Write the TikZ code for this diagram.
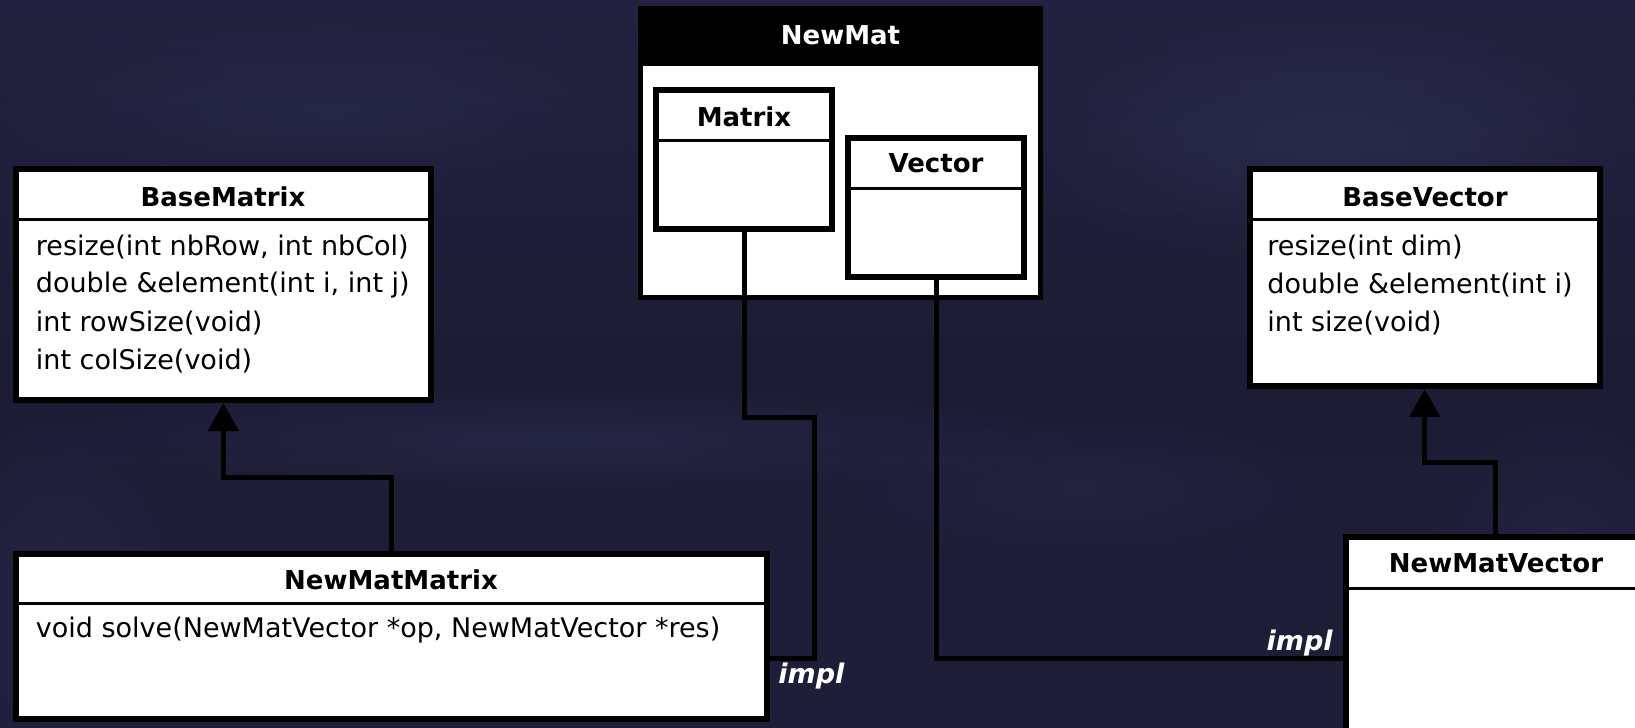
\documentclass[tikz,border=0pt]{standalone}
\usepackage{fontspec}
\setmainfont{DejaVu Sans}
\usetikzlibrary{arrows.meta,fit,fadings}

\definecolor{bgtop}{RGB}{34,34,64}
\definecolor{bgmid}{RGB}{28,28,52}
\definecolor{bgbottom}{RGB}{30,30,57}
\definecolor{bghaze}{RGB}{50,50,90}
\tikzfading[name=softspot, inner color=transparent!0, outer color=transparent!100]

\tikzset{
  classbox/.style={draw=black, line width=3pt, fill=white, inner sep=0pt},
  packagebox/.style={draw=black, line width=2.5pt, fill=white, inner sep=0pt},
  divider/.style={draw=black, line width=1.5pt},
  classname/.style={font=\bfseries\fontsize{13}{15}\selectfont, inner sep=0pt},
  member/.style={font=\fontsize{13.5}{16}\selectfont, anchor=west, inner sep=0pt},
  conn/.style={draw=black, line width=2.5pt},
  inherit/.style={conn, -{Triangle[width=15pt,length=14pt]}},
  role/.style={font=\bfseries\itshape\fontsize{13.5}{16}\selectfont, text=white, inner sep=0pt},
  haze/.style={fill=bghaze, path fading=softspot}
}

\begin{document}
\begin{tikzpicture}[x=0.5pt,y=-0.5pt]
\useasboundingbox (0,0) rectangle (1635,728);
\clip (0,0) rectangle (1635,728);

% backdrop
\shade[top color=bgtop, bottom color=bgmid] (0,0) rectangle (1635,364);
\shade[top color=bgmid, bottom color=bgbottom] (0,364) rectangle (1635,728);
\fill[haze, opacity=0.45] (560,440) ellipse (560 and 55);
\fill[haze, opacity=0.50] (1330,140) ellipse (360 and 130);
\fill[haze, opacity=0.40] (60,600) ellipse (140 and 200);
\fill[haze, opacity=0.30] (330,110) ellipse (400 and 100);
\fill[haze, opacity=0.30] (1080,490) ellipse (280 and 80);
\fill[haze, opacity=0.30] (1560,560) ellipse (150 and 160);

% BaseMatrix
\node[classbox, fit={(15.6,169)(431,400)}] (basematrix) {};
\draw[divider] (15.6,219) -- (431,219);
\node[classname] (basematrix-name) at (223,197) {BaseMatrix};
\node[member] (bm1) at (35.5,247.5) {resize(int nbRow, int nbCol)};
\node[member] (bm2) at (35.5,285) {double \&element(int i, int j)};
\node[member] (bm3) at (35.5,323) {int rowSize(void)};
\node[member] (bm4) at (35.5,361) {int colSize(void)};

% BaseVector
\node[classbox, fit={(1249.5,169)(1600,386)}] (basevector) {};
\draw[divider] (1249.5,219) -- (1600,219);
\node[classname] (basevector-name) at (1425,197) {BaseVector};
\node[member] (bv1) at (1267,247.5) {resize(int dim)};
\node[member] (bv2) at (1267,285) {double \&element(int i)};
\node[member] (bv3) at (1267,323) {int size(void)};

% NewMat package with its two classes
\node[packagebox, fit={(640.5,8.5)(1040.5,297.5)}] (newmat) {};
\fill[black] (640.5,8.5) rectangle (1040.5,66);
\node[classname, text=white] (newmat-name) at (840.5,35) {NewMat};

\node[classbox, fit={(656,90)(832,229)}] (matrix) {};
\draw[divider] (656,140) -- (832,140);
\node[classname] (matrix-name) at (744,117) {Matrix};

\node[classbox, fit={(848,138)(1024,277)}] (vector) {};
\draw[divider] (848,188) -- (1024,188);
\node[classname] (vector-name) at (936,163) {Vector};

% NewMatMatrix
\node[classbox, fit={(15.5,554)(767,719)}] (newmatmatrix) {};
\draw[divider] (15.5,603) -- (767,603);
\node[classname] (newmatmatrix-name) at (391,580) {NewMatMatrix};
\node[member] (nm1) at (35.5,630) {void solve(NewMatVector *op, NewMatVector *res)};

% NewMatVector
\node[classbox, fit={(1346,537)(1644,745)}] (newmatvector) {};
\draw[divider] (1346,588) -- (1644,588);
\node[classname] (newmatvector-name) at (1496,563) {NewMatVector};

% inheritance
\draw[inherit] (newmatmatrix.north) -- ++(0,-74) -| (basematrix.south);
\draw[inherit] (newmatvector.north) -- ++(0,-72) -| (basevector.south);

% implementation links
\coordinate (mbend) at (814,417);
\coordinate (implrow) at (0,658);
\draw[conn] (matrix.south) |- (mbend) |- (newmatmatrix.east |- implrow);
\draw[conn] (vector.south) |- (newmatvector.west |- implrow);

\node[role, anchor=west] (impl-m) at (778,676) {impl};
\node[role, anchor=east] (impl-v) at (1333,643) {impl};
\end{tikzpicture}
\end{document}
